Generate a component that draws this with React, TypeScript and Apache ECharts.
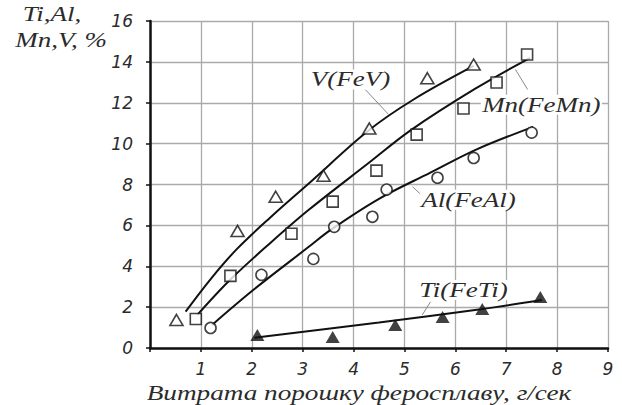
import React, { useEffect, useRef } from "react";
import * as echarts from "echarts";

// Measured points (x: powder feed rate, g/s; y: content, %)
const vX = [0.52, 1.72, 2.47, 3.41, 4.31, 5.45, 6.36];
const vY = [1.37, 5.73, 7.4, 8.43, 10.74, 13.2, 13.87];

const mnX = [0.9, 1.58, 2.78, 3.59, 4.45, 5.24, 6.16, 6.81, 7.41];
const mnY = [1.42, 3.53, 5.59, 7.16, 8.68, 10.44, 11.72, 12.99, 14.36];

const alX = [1.19, 2.19, 3.21, 3.62, 4.37, 4.65, 5.65, 6.36, 7.5];
const alY = [0.98, 3.58, 4.36, 5.93, 6.42, 7.75, 8.33, 9.3, 10.54];

const tiX = [2.11, 3.59, 4.82, 5.75, 6.53, 7.67];
const tiY = [0.64, 0.54, 1.13, 1.52, 1.91, 2.5];

// Fitted curves
const vFitX = [0.7, 1.2, 1.71, 2.37, 3.12, 4.3, 5.18, 6.36];
const vFitY = [1.78, 3.4, 4.85, 6.4, 8.05, 10.65, 12.16, 13.8];
const mnFitX = [0.93, 1.58, 2.37, 3.12, 4.27, 5.12, 6.4, 7.47];
const mnFitY = [1.62, 3.35, 5.15, 6.76, 9.0, 10.65, 12.7, 14.2];
const alFitX = [1.22, 2.04, 3.12, 3.55, 4.5, 5.51, 6.42, 7.53];
const alFitY = [1.13, 2.86, 4.95, 5.78, 7.3, 8.58, 9.72, 10.82];
const tiFitX = [2.05, 4.5, 6.5, 7.7];
const tiFitY = [0.5, 1.25, 1.9, 2.35];

// Curve labels (data coords) and their leader lines
const labelText = ["V(FeV)", "Mn(FeMn)", "Al(FeAl)", "Ti(FeTi)"];
const labelX = [3.94, 7.69, 6.26, 6.16];
const labelY = [13.14, 11.9, 7.25, 2.84];
const leaderFrom = [[4.23, 12.65], [7.18, 13.63], [5.16, 7.89], [5.35, 1.62]];
const leaderTo = [[4.69, 11.42], [7.42, 12.65], [5.37, 7.4], [5.51, 2.25]];

const yTitle1 = "Ti,Al,";
const yTitle2 = "Mn,V, %";
const xTitle = "Витрата порошку феросплаву, г/сек";

const zip = (a: number[], b: number[]) => a.map((v, i) => [v, b[i]]);

const SERIF = "Liberation Serif";
const SANS = "DejaVu Sans";
const STRETCH = 1.35;
const INK = "#2b2b2b";

export default function App() {
  const ref = useRef<HTMLDivElement>(null);
  useEffect(() => {
    if (!ref.current) return;
    const chart = echarts.init(ref.current, undefined, { renderer: "svg" });
    const axisLabel = {
      fontFamily: SANS,
      fontStyle: "italic" as const,
      fontSize: 17,
      color: INK,
    };
    const lineSeries = (xs: number[], ys: number[]) => ({
      type: "line" as const,
      data: zip(xs, ys),
      smooth: 0.35,
      showSymbol: false,
      symbol: "none",
      lineStyle: { color: "#111", width: 2 },
      z: 3,
    });
    const openMarker = { color: "#fff", borderColor: "#111", borderWidth: 1.6 };
    chart.setOption({
      animation: false,
      grid: { left: 150, right: 14, top: 21, bottom: 57 },
      xAxis: {
        type: "value",
        min: 0,
        max: 9,
        interval: 1,
        axisLine: { lineStyle: { color: "#111", width: 2.5 } },
        axisTick: { show: true, length: 4, lineStyle: { color: "#111", width: 1.5 } },
        splitLine: { show: true, lineStyle: { color: "#aaa", width: 1.3 } },
        axisLabel: { ...axisLabel, margin: 12, formatter: (v: number) => (v === 0 ? "" : String(v)) },
      },
      yAxis: {
        type: "value",
        min: 0,
        max: 16,
        interval: 2,
        axisLine: { show: true, lineStyle: { color: "#111", width: 2.5 } },
        axisTick: { show: true, length: 4, lineStyle: { color: "#111", width: 1.5 } },
        splitLine: { show: true, lineStyle: { color: "#aaa", width: 1.3 } },
        axisLabel: { ...axisLabel, margin: 17 },
      },
      series: [
        lineSeries(vFitX, vFitY),
        lineSeries(mnFitX, mnFitY),
        lineSeries(alFitX, alFitY),
        lineSeries(tiFitX, tiFitY),
        { type: "scatter", data: zip(vX, vY), symbol: "triangle", symbolSize: [13, 11], itemStyle: openMarker, z: 4 },
        { type: "scatter", data: zip(mnX, mnY), symbol: "rect", symbolSize: 11, itemStyle: openMarker, z: 4 },
        { type: "scatter", data: zip(alX, alY), symbol: "circle", symbolSize: 11, itemStyle: openMarker, z: 4 },
        { type: "scatter", data: zip(tiX, tiY), symbol: "triangle", symbolSize: [14, 12], itemStyle: { color: "#111" }, z: 4 },
      ],
    });

    const px = (p: number[]) => chart.convertToPixel({ gridIndex: 0 }, p) as number[];
    const graphics: any[] = [];
    labelText.forEach((t, i) => {
      const a = px(leaderFrom[i]);
      const b = px(leaderTo[i]);
      graphics.push({
        type: "line",
        shape: { x1: a[0], y1: a[1], x2: b[0], y2: b[1] },
        style: { stroke: "#888", lineWidth: 1 },
        z: 10,
      });
    });
    const textStyle = (text: string, bg?: string) => ({
      text,
      font: "italic normal 20px " + SERIF,
      fill: INK,
      textAlign: "center",
      textVerticalAlign: "middle",
      align: "center",
      verticalAlign: "middle",
      ...(bg ? { backgroundColor: bg, padding: [0, 1] } : {}),
    });
    labelText.forEach((t, i) => {
      const p = px([labelX[i], labelY[i]]);
      graphics.push({
        type: "text",
        x: p[0],
        y: p[1],
        scaleX: STRETCH,
        z: 11,
        style: textStyle(t, "#fff"),
      });
    });
    const title = (text: string, x: number, y: number, sx: number) => ({
      type: "text",
      x,
      y,
      scaleX: sx,
      z: 11,
      style: textStyle(text),
    });
    graphics.push(title(yTitle1, 52, 14, STRETCH));
    graphics.push(title(yTitle2, 61, 40, STRETCH));
    graphics.push(title(xTitle, 359, 393, 1.36));
    chart.setOption({ graphic: graphics });

    return () => chart.dispose();
  }, []);
  return (
    <div
      ref={ref}
      style={{ position: "fixed", left: 0, top: 0, width: 622, height: 405, background: "#fff" }}
    />
  );
}
